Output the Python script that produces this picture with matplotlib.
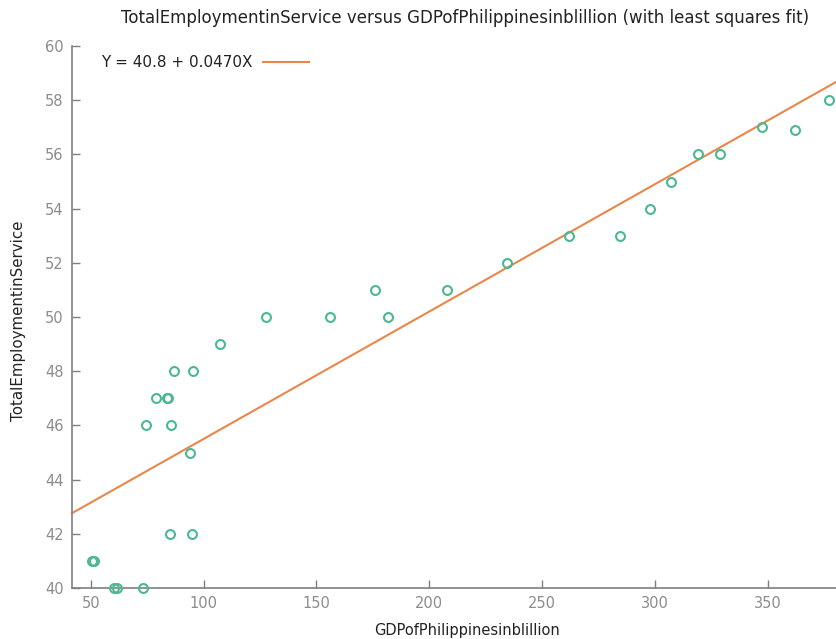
import matplotlib
matplotlib.use("Agg")
import matplotlib.pyplot as plt
import numpy as np

# GDP of the Philippines (billion) vs total employment in service
gdp = [50.4, 51.5, 60.3, 61.8, 73.0, 74.6, 78.9, 83.7, 84.2, 85.7, 86.9,
       94.1, 95.3, 85.1, 94.7, 107.3, 127.7, 156.0, 181.7, 176.0, 207.9,
       234.3, 262.0, 284.6, 297.8, 307.0, 319.1, 328.7, 347.6, 362.0, 377.1]
employment = [41, 41, 40, 40, 40, 46, 47, 47, 47, 46, 48,
              45, 48, 42, 42, 49, 50, 50, 50, 51, 51,
              52, 53, 53, 54, 55, 56, 56, 57, 56.9, 58]

intercept = 40.8
slope = 0.0470

x_ticks = [50, 100, 150, 200, 250, 300, 350]
y_ticks = [40, 42, 44, 46, 48, 50, 52, 54, 56, 58, 60]

point_color = "#4cb892"
line_color = "#e9874a"
tick_color = "#8c8c8c"
axis_color = "#7f7f7f"

W, H = 837, 639
fig = plt.figure(figsize=(W / 100, H / 100), dpi=100)
ax = fig.add_axes([72 / W, (H - 588) / H, (W - 72) / W, (588 - 46) / H])

xlim = (41.7, 380.7)
ax.set_xlim(*xlim)
ax.set_ylim(40, 60)

xs = np.array(xlim)
ax.plot(xs, intercept + slope * xs, color=line_color, lw=1.5,
        label=f"Y = {intercept} + {slope:.4f}X", clip_on=False)
ax.plot(gdp, employment, linestyle="none", marker="o", markersize=6.4,
        markerfacecolor="none", markeredgecolor=point_color, markeredgewidth=1.5,
        clip_on=False, zorder=3)

for side in ("top", "right"):
    ax.spines[side].set_visible(False)
for side in ("left", "bottom"):
    ax.spines[side].set_color(axis_color)
    ax.spines[side].set_linewidth(1.2)

ax.set_xticks(x_ticks)
ax.set_yticks(y_ticks)
ax.tick_params(direction="in", length=6, width=1, color=axis_color,
               labelcolor=tick_color, labelsize=10.5, pad=6)

fig.text(465 / W, 1 - 18 / H,
         "TotalEmploymentinService versus GDPofPhilippinesinblillion (with least squares fit)",
         fontsize=12, color="#222222", ha="center", va="center")
fig.text(467 / W, 1 - 630 / H, "GDPofPhilippinesinblillion",
         fontsize=10.5, color="#222222", ha="center", va="center")
fig.text(19 / W, 1 - 321 / H, "TotalEmploymentinService",
         fontsize=10.8, color="#222222", ha="center", va="center", rotation=90)

leg = ax.legend(loc="upper left", bbox_to_anchor=(0.02, 1.008), frameon=False,
                markerfirst=False, handlelength=3.0, handletextpad=0.7, fontsize=11)
for t in leg.get_texts():
    t.set_color("#222222")

fig.savefig("out.png", dpi=100)
